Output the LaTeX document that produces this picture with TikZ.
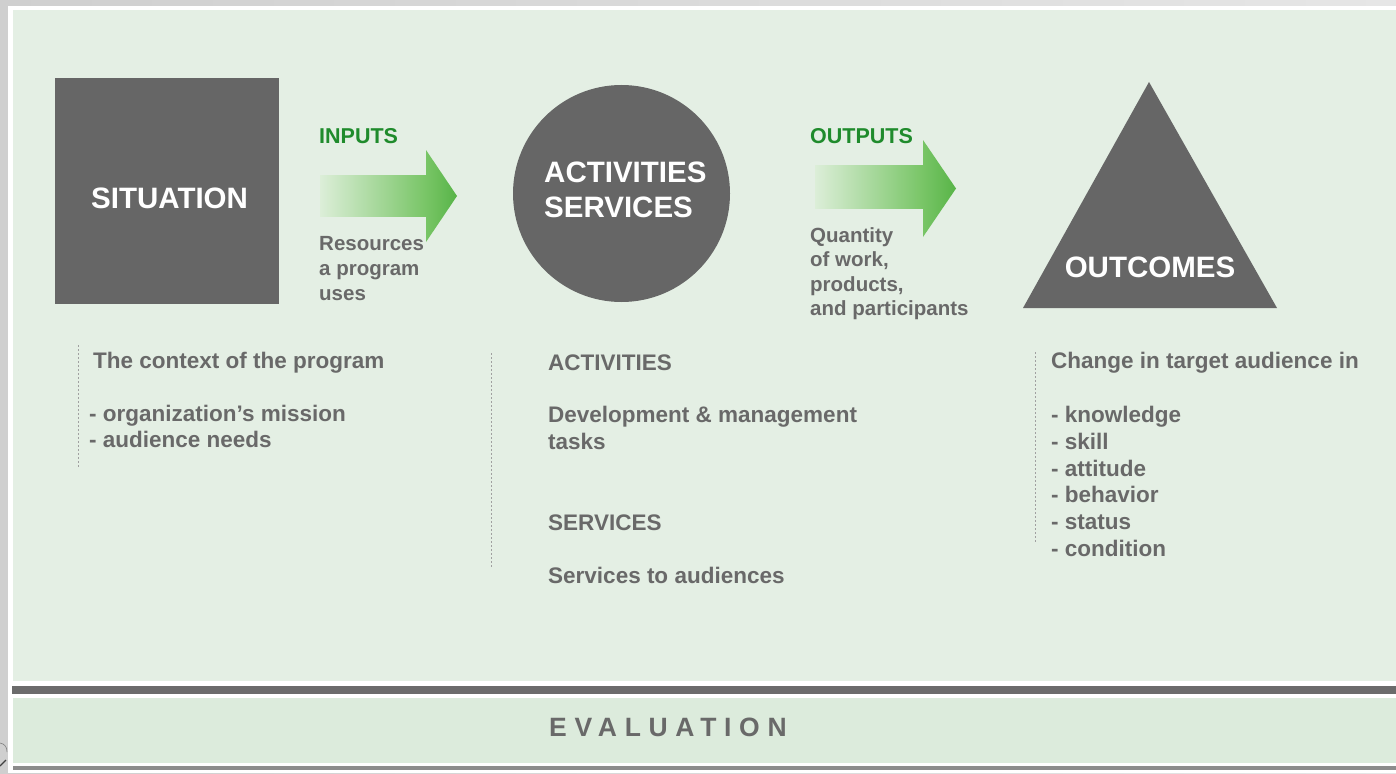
\documentclass[tikz,border=0pt]{standalone}
\usepackage{fontspec}
\setmainfont{Liberation Sans}
\usetikzlibrary{shapes.geometric}
\definecolor{bgA}{HTML}{CFCFCF}
\definecolor{bgB}{HTML}{E6E6E6}
\definecolor{panel}{HTML}{E4EFE4}
\definecolor{band}{HTML}{DCEBDC}
\definecolor{shapegray}{HTML}{666666}
\definecolor{bargray}{HTML}{6B6B6B}
\definecolor{linegray}{HTML}{8C8C8C}
\definecolor{txtgray}{HTML}{696969}
\definecolor{greentxt}{HTML}{1F8B2C}
\definecolor{arrowlight}{HTML}{DCEED8}
\definecolor{arrowmid}{HTML}{78C566}
\definecolor{arrowdark}{HTML}{58B448}
\definecolor{dashgray}{HTML}{A0A0A0}
\begin{document}
\begin{tikzpicture}[x=1pt,y=-1pt,
  shapefill/.style={fill=shapegray,draw=none},
  bigtxt/.style={text=white,inner sep=0pt,anchor=base west,font=\fontsize{29.5}{33}\selectfont\bfseries},
  lbl/.style={text=txtgray,inner sep=0pt,anchor=base west,font=\fontsize{22.5}{27}\selectfont\bfseries},
  smalltxt/.style={text=txtgray,inner sep=0pt,anchor=base west,font=\fontsize{20.5}{24}\selectfont\bfseries},
  grntxt/.style={text=greentxt,inner sep=0pt,anchor=base west,font=\fontsize{21.5}{25}\selectfont\bfseries},
  guide/.style={draw=dashgray,line width=1pt,dash pattern=on 2pt off 2pt},
]
\useasboundingbox (0,0) rectangle (1396,773);
% backgrounds
\shade[left color=bgA,right color=bgB] (0,0) rectangle (1396,773);
\fill[white] (8,6) rectangle (1396,773);
\fill[panel] (13,10) rectangle (1396,681);
\fill[bargray] (12,686) rectangle (1396,694);
\fill[band] (13,698) rectangle (1396,763);
\fill[linegray] (13,766) rectangle (1396,770);
\draw[gray,line width=0.6pt] (0,743) .. controls (5,744) and (7,747) .. (7,752);
\draw[darkgray,line width=1.2pt] (0,766) -- (6,760);

% situation
\node[shapefill,rectangle,minimum width=224pt,minimum height=226pt,inner sep=0pt] (sit) at (167,191) {};
\node[bigtxt] (sittxt) at (91,208.5) {SITUATION};

% inputs arrow
\shade[left color=arrowlight,right color=arrowmid] (320,175) rectangle (426,216);
\shade[left color=arrowmid,right color=arrowdark] (426,150) -- (457,196) -- (426,242) -- cycle;
\node[grntxt] (inputs) at (319,143) {INPUTS};
\node[smalltxt] (in1) at (319,250) {Resources};
\node[smalltxt] (in2) at (319,275) {a program};
\node[smalltxt] (in3) at (319,300) {uses};

% activities circle
\node[shapefill,circle,minimum size=217pt,inner sep=0pt] (act) at (621.5,193.5) {};
\node[bigtxt] (acttxt1) at (544,182) {ACTIVITIES};
\node[bigtxt] (acttxt2) at (544,217) {SERVICES};

% outputs arrow
\shade[left color=arrowlight,right color=arrowmid] (815,165) rectangle (923,208);
\shade[left color=arrowmid,right color=arrowdark] (923,140) -- (956,188.5) -- (923,237) -- cycle;
\node[grntxt] (outputs) at (810,143) {OUTPUTS};
\node[smalltxt] (out1) at (810,242) {Quantity};
\node[smalltxt] (out2) at (810,266.5) {of work,};
\node[smalltxt] (out3) at (810,291) {products,};
\node[smalltxt] (out4) at (810,315.5) {and participants};

% outcomes triangle
\coordinate (tA) at (1149,82);
\coordinate (tB) at (1023,308);
\coordinate (tC) at (1277,308);
\fill[shapegray] (tA) -- (tB) -- (tC) -- cycle;
\node[bigtxt,anchor=base] (outtxt) at (1150,277) {OUTCOMES};

% guide lines
\coordinate (g1a) at (78,345); \coordinate (g1b) at (78,467);
\coordinate (g2a) at (491,353); \coordinate (g2b) at (491,567);
\coordinate (g3a) at (1035,352); \coordinate (g3b) at (1035,542);
\draw[guide] (g1a) -- (g1b);
\draw[guide] (g2a) -- (g2b);
\draw[guide] (g3a) -- (g3b);

% situation text
\node[lbl] (c0) at (93,368) {The context of the program};
\node[lbl] (c1) at (89,421) {- organization’s mission};
\node[lbl] (c2) at (89,447) {- audience needs};

% activities text
\node[lbl] (a0) at (548,370) {ACTIVITIES};
\node[lbl] (a1) at (548,422) {Development \& management};
\node[lbl] (a2) at (548,449) {tasks};
\node[lbl] (a3) at (548,530) {SERVICES};
\node[lbl] (a4) at (548,583) {Services to audiences};

% outcomes text
\node[lbl] (o0) at (1051,368) {Change in target audience in};
\node[lbl] (o1) at (1051,422) {- knowledge};
\node[lbl] (o2) at (1051,449) {- skill};
\node[lbl] (o3) at (1051,476) {- attitude};
\node[lbl] (o4) at (1051,502.5) {- behavior};
\node[lbl] (o5) at (1051,529) {- status};
\node[lbl] (o6) at (1051,556) {- condition};

% evaluation
\node[text=txtgray,inner sep=0pt,anchor=base west,font=\fontsize{26.5}{30}\selectfont\bfseries\addfontfeature{LetterSpace=29}] (eval) at (549,736) {EVALUATION};
\end{tikzpicture}
\end{document}
